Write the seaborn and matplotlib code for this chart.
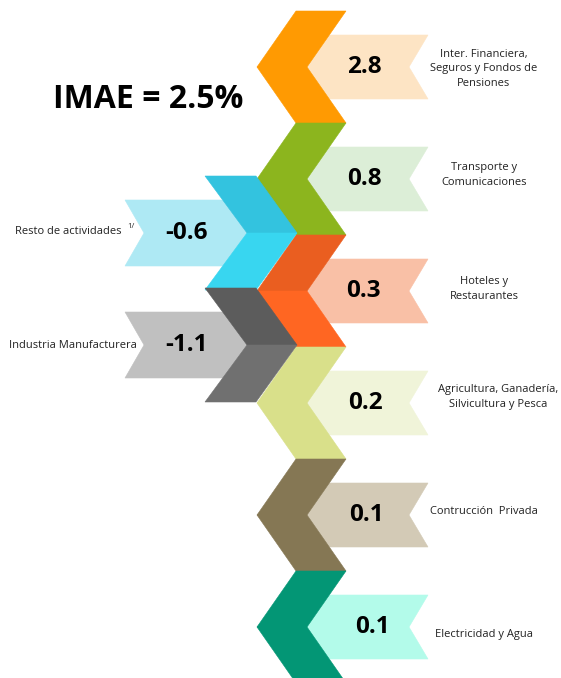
import matplotlib
matplotlib.use("Agg")
import matplotlib.pyplot as plt
from matplotlib.patches import Polygon
import seaborn as sns

# growth contributions (IMAE), right = positive, left = negative
right_sectors = ["Inter. Financiera,\nSeguros y Fondos de\nPensiones",
                 "Transporte y\nComunicaciones",
                 "Hoteles y\nRestaurantes",
                 "Agricultura, Ganadería,\nSilvicultura y Pesca",
                 "Contrucción  Privada",
                 "Electricidad y Agua"]
right_values = [2.8, 0.8, 0.3, 0.2, 0.1, 0.1]
left_sectors = ["Resto de actividades", "Industria Manufacturera"]
left_values = [-0.6, -1.1]
imae = 2.5

# colours: dark chevron top half, bottom half, pale banner
right_dark_top = ["#FF9A02", "#8CB51E", "#EA5E20", "#D9E08A", "#857754", "#039675"]
right_dark_bot = ["#FF9A02", "#8CB51E", "#FF6622", "#D9E08A", "#857754", "#039675"]
right_pale = ["#FDE4C4", "#DCEED7", "#F9C0A6", "#F0F4D9", "#D3CAB6", "#B3FBEA"]
left_dark_top = ["#33C3DF", "#5C5C5C"]
left_dark_bot = ["#38D6F0", "#707070"]
left_pale = ["#AEE9F4", "#C0C0C0"]

sns.set_theme(style="white")
plt.rcParams["font.family"] = ["Open Sans", "DejaVu Sans"]

fig = plt.figure(figsize=(5.61, 6.78), dpi=100)
ax = fig.add_axes([0, 0, 1, 1])
ax.set_xlim(0, 561)
ax.set_ylim(678, 0)
ax.axis("off")

row_h = 112
y0 = 67


def poly(pts, color):
    ax.add_patch(Polygon(pts, closed=True, facecolor=color, edgecolor=color, linewidth=0.4))


# right side: chevrons pointing left
label_dx = [0, 0, 0, 14, 0, 0]
label_dy = [2, -4, -2, -6, -3, 8]
val_dx = [0, 0, -1, 1, 2, 8]
for i, (name, v) in enumerate(zip(right_sectors, right_values)):
    yc = y0 + row_h * i
    h = row_h / 2
    poly([(307, yc), (329, yc - 32), (428, yc - 32), (409, yc),
          (428, yc + 32), (329, yc + 32)], right_pale[i])
    poly([(296, yc - h), (346, yc - h), (307, yc), (257, yc)], right_dark_top[i])
    poly([(257, yc), (307, yc), (346, yc + h), (296, yc + h)], right_dark_bot[i])
    ax.text(364 + val_dx[i], yc, f"{v:.1f}", ha="center", va="center",
            fontsize=17.5, fontweight="bold", color="black")
    ax.text(484 + label_dx[i], yc + label_dy[i], name, ha="center", va="center",
            multialignment="center", fontsize=8, color="#222222", linespacing=1.45)

# left side: chevrons pointing right
for k, (name, v) in enumerate(zip(left_sectors, left_values)):
    yc = y0 + row_h * (k + 1.5) - 2
    h = 57
    poly([(247, yc), (223, yc - 33), (125, yc - 33), (144, yc),
          (125, yc + 33), (223, yc + 33)], left_pale[k])
    poly([(205, yc - h), (256, yc - h), (297, yc), (247, yc)], left_dark_top[k])
    poly([(247, yc), (297, yc), (256, yc + h), (205, yc + h)], left_dark_bot[k])
    ax.text(187, yc, f"{v:.1f}", ha="center", va="center",
            fontsize=17.5, fontweight="bold", color="black")

ax.text(122, 232, left_sectors[0], ha="right", va="center", fontsize=8, color="#222222")
ax.text(127, 227, "1/", ha="left", va="center", fontsize=5.5, color="#222222")
ax.text(137, 346, left_sectors[1], ha="right", va="center", fontsize=8, color="#222222")

ax.text(148, 99, f"IMAE = {imae}%", ha="center", va="center",
        fontsize=23, fontweight="bold", color="black")

fig.savefig("out.png", dpi=100)
